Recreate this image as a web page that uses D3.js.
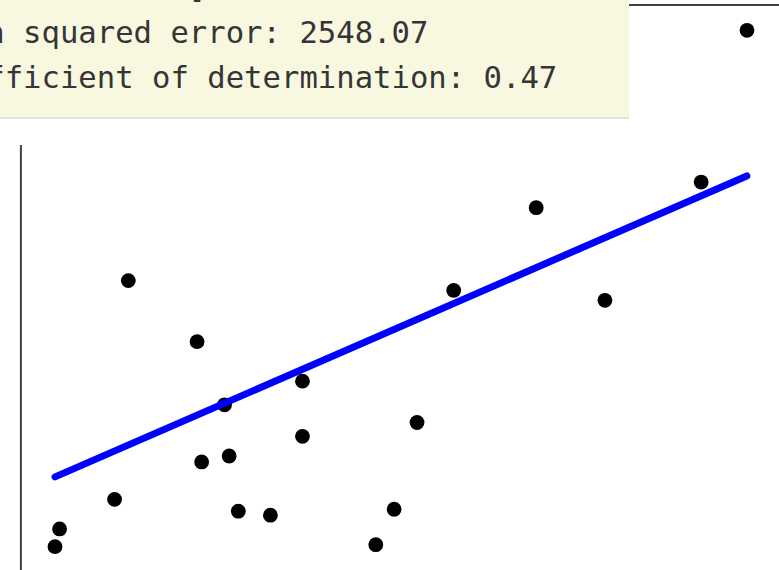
<!DOCTYPE html>
<html>
<head>
<meta charset="utf-8">
<script src="https://cdn.jsdelivr.net/npm/d3@7"></script>
<style>
  html, body { margin: 0; padding: 0; background: #ffffff; overflow: hidden; }
  svg { display: block; }
</style>
</head>
<body>
<svg id="chart" width="779" height="570"></svg>
<script>
// ---- data (diabetes test set: bmi feature vs disease progression) ----
const bmiTest = [0.07786339, -0.03961813, 0.01103904, -0.04069594, -0.03422907,
                 0.00564998, 0.08864151, -0.03315126, -0.05686312, -0.03099563,
                 0.05522933, -0.06009656, 0.00133873, -0.02345095, -0.07410811,
                 0.01966154, -0.01590626, -0.01590626, 0.03906215, -0.0730303];
const progressionTest = [233, 91, 111, 152, 120, 67, 310, 94, 183, 66,
                         173, 72, 49, 64, 48, 178, 104, 132, 220, 57];
// fitted regression line (endpoints at min / max bmi of the test set)
const lineX = [-0.0741, 0.0886];
const lineY = [83.4, 236.1];
// printed output lines
const outputLines = ["Coefficients: ", " [938.23786125]",
                     "Mean squared error: 2548.07",
                     "Coefficient of determination: 0.47"];

// ---- layout ----
const W = 779, H = 570;
const plot = { left: 20.4, right: 781.6, top: 4.5, bottom: 572.5 };

const svg = d3.select("#chart");

const pad = (ext) => { const s = ext[1] - ext[0]; return [ext[0] - 0.05 * s, ext[1] + 0.05 * s]; };
const x = d3.scaleLinear().domain(pad(d3.extent(bmiTest))).range([plot.left, plot.right]);
const y = d3.scaleLinear().domain(pad(d3.extent(progressionTest))).range([plot.bottom, plot.top]);

// ---- frame (no ticks) ----
const spine = (g) => g.call(s => s.select(".domain").attr("stroke", "#404040").attr("stroke-width", 2));
svg.append("g").attr("transform", `translate(${plot.left},0)`)
   .call(d3.axisLeft(y).tickValues([]).tickSizeOuter(0)).call(spine);
svg.append("g").attr("transform", `translate(${plot.right},0)`)
   .call(d3.axisRight(y).tickValues([]).tickSizeOuter(0)).call(spine);
svg.append("g").attr("transform", `translate(0,${plot.top})`)
   .call(d3.axisTop(x).tickValues([]).tickSizeOuter(0)).call(spine);
svg.append("g").attr("transform", `translate(0,${plot.bottom})`)
   .call(d3.axisBottom(x).tickValues([]).tickSizeOuter(0)).call(spine);

// ---- scatter ----
svg.append("g").selectAll("circle")
  .data(bmiTest.map((v, i) => [v, progressionTest[i]]))
  .join("circle")
  .attr("cx", d => x(d[0]))
  .attr("cy", d => y(d[1]))
  .attr("r", 7.4)
  .attr("fill", "#000000");

// ---- regression line ----
svg.append("path")
  .datum(lineX.map((v, i) => [v, lineY[i]]))
  .attr("d", d3.line().x(d => x(d[0])).y(d => y(d[1])))
  .attr("fill", "none")
  .attr("stroke", "#0000ff")
  .attr("stroke-width", 7)
  .attr("stroke-linecap", "round");

// ---- output box overlay ----
const box = svg.append("g");
box.append("rect").attr("x", 0).attr("y", 0).attr("width", 629).attr("height", 145).attr("fill", "#ffffff");
box.append("rect").attr("x", 0).attr("y", 0).attr("width", 629).attr("height", 117).attr("fill", "#f8f8e1");
box.append("rect").attr("x", 0).attr("y", 117).attr("width", 629).attr("height", 2).attr("fill", "#e2e2dc");
box.append("g").selectAll("text")
  .data(outputLines)
  .join("text")
  .attr("x", -69)
  .attr("y", (d, i) => -47 + i * 45)
  .attr("font-family", "'DejaVu Sans Mono', monospace")
  .attr("font-size", 30.6)
  .attr("fill", "#353535")
  .attr("xml:space", "preserve")
  .style("white-space", "pre")
  .text(d => d);
</script>
</body>
</html>
